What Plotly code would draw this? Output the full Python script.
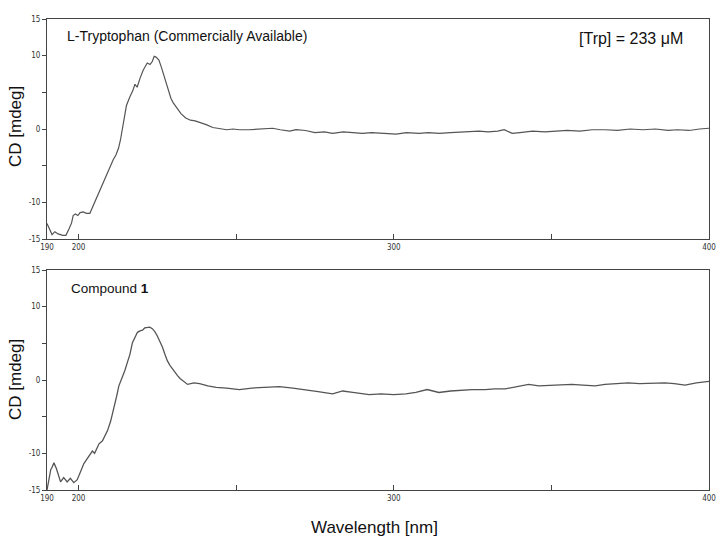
import plotly.graph_objects as go

# ---- data ----
trp_wl = [190, 191, 191.6, 192.5, 193.5, 195, 196, 197, 197.8, 198.3, 199, 199.8, 200.5, 201.5, 202.5,
          203.6, 204.5, 205.7, 206.8, 207.8, 209, 210, 211, 211.9, 212.7, 213.3, 214.2, 215.2, 216.3,
          217.2, 217.9, 218.6, 219.5, 220.5, 221.8, 222.7, 223.4, 224, 224.6, 225.5, 226.3, 227, 227.8,
          228.5, 229.3, 230, 231.2, 232.5, 234, 235.5, 237, 238.5, 240.5, 242.6, 245, 247, 249, 251,
          254, 257, 259, 261.6, 264, 267, 269, 272, 275, 278, 280.6, 284, 287, 290, 293, 296, 300.8,
          304, 308, 311, 314.5, 318, 321, 324, 327, 330, 333, 335, 337.6, 340, 344, 348, 351.4, 355,
          359, 363, 367, 371, 375, 379, 383, 387, 390, 393.7, 397, 400]
trp_cd = [-12.9, -14.0, -14.4, -14.0, -14.3, -14.5, -14.5, -13.6, -12.8, -11.8, -11.6, -11.8, -11.4,
          -11.3, -11.5, -11.5, -10.6, -9.4, -8.3, -7.3, -6.2, -5.2, -4.2, -3.5, -2.6, -1.5, 0.8, 3.2,
          4.4, 5.2, 6.1, 5.7, 6.9, 8.0, 9.0, 8.8, 9.2, 9.9, 9.8, 9.4, 8.4, 7.4, 6.1, 5.1, 4.2, 3.6,
          2.8, 2.1, 1.5, 1.2, 1.1, 0.9, 0.6, 0.2, 0.0, -0.1, 0.0, -0.1, -0.1, 0.0, 0.1, 0.1, -0.1,
          -0.3, -0.1, -0.2, -0.5, -0.4, -0.6, -0.4, -0.5, -0.6, -0.5, -0.6, -0.7, -0.5, -0.6, -0.5,
          -0.6, -0.5, -0.4, -0.4, -0.3, -0.4, -0.3, -0.1, -0.6, -0.5, -0.3, -0.4, -0.3, -0.2, -0.3,
          -0.1, -0.1, -0.2, 0.0, -0.1, 0.0, -0.2, -0.1, -0.2, 0.0, 0.1]

cmp_wl = [190, 190.6, 191.2, 191.5, 192.2, 193, 193.6, 194.3, 195.3, 196.4, 197.4, 198.5, 199.6,
          200.6, 201.7, 202.5, 203.3, 204.4, 205.1, 205.8, 206.5, 207.6, 208.4, 209.2, 210.2, 211.2,
          212.1, 212.8, 213.9, 214.7, 215.5, 216.3, 217.1, 217.9, 218.7, 219.5, 220.3, 221, 221.8,
          222.6, 223.4, 224.2, 225, 225.8, 226.6, 227.4, 228.2, 229, 229.8, 230.6, 231.4, 232.2, 233,
          234.6, 236.6, 238.4, 241, 243.7, 247, 251, 255, 259, 263.7, 268, 272, 276, 280.6, 283.8,
          287, 292.2, 296, 300, 303.8, 307, 310.6, 314.3, 318, 321, 324.8, 329, 332, 335.4, 339,
          342.8, 346, 350, 353, 356.5, 360, 363.9, 367, 371, 374.4, 378, 383, 386, 389, 392.4, 396,
          398, 400]
cmp_cd = [-15.0, -13.5, -12.2, -12.0, -11.3, -12.1, -13.0, -13.9, -13.3, -13.9, -13.4, -14.0, -13.6,
          -12.5, -11.4, -10.9, -10.4, -9.7, -10.0, -9.3, -8.7, -8.3, -7.6, -6.9, -5.6, -4.0, -2.2,
          -0.8, 0.3, 1.3, 2.4, 3.5, 5.1, 5.9, 6.5, 6.7, 6.8, 7.1, 7.2, 7.2, 7.0, 6.6, 6.0, 5.3, 4.5,
          3.5, 2.6, 2.0, 1.5, 1.1, 0.6, 0.2, -0.1, -0.6, -0.4, -0.5, -0.8, -1.0, -1.1, -1.3, -1.1,
          -1.0, -0.9, -1.1, -1.4, -1.6, -1.9, -1.5, -1.7, -2.0, -1.9, -2.0, -1.9, -1.7, -1.3, -1.7,
          -1.5, -1.4, -1.3, -1.3, -1.2, -1.2, -0.9, -0.6, -0.8, -0.7, -0.6, -0.6, -0.7, -0.8, -0.6,
          -0.5, -0.4, -0.5, -0.4, -0.4, -0.5, -0.7, -0.4, -0.3, -0.2]

x_tickvals = [190, 200, 250, 300, 350, 400]
x_ticktext = ["190", "200", "", "300", "", "400"]
y_tickvals = [-15, -10, -5, 0, 5, 10, 15]
y_ticktext = ["-15", "-10", "", "0", "", "10", "15"]

W, H = 717, 539
LINE = "#555555"
FRAME = "#444444"
tickfont = dict(family="Liberation Sans Narrow, DejaVu Sans Condensed, Arial Narrow, sans-serif",
                size=8, color="#333333")

fig = go.Figure()
fig.add_trace(go.Scatter(x=trp_wl, y=trp_cd, mode="lines", line=dict(color=LINE, width=1.2),
                         xaxis="x", yaxis="y", showlegend=False, hoverinfo="skip"))
fig.add_trace(go.Scatter(x=cmp_wl, y=cmp_cd, mode="lines", line=dict(color=LINE, width=1.3),
                         xaxis="x2", yaxis="y2", showlegend=False, hoverinfo="skip"))

xdom = [47 / W, 709 / W]
ydom_top = [1 - 239 / H, 1 - 19 / H]
ydom_bot = [1 - 490 / H, 1 - 270 / H]

def xax(anchor):
    return dict(domain=xdom, range=[190, 400], anchor=anchor, showline=True, mirror=True,
                linecolor=FRAME, linewidth=1, ticks="inside", ticklen=5, tickcolor=FRAME,
                tickvals=x_tickvals, ticktext=x_ticktext, tickfont=tickfont,
                showgrid=False, zeroline=False, automargin=False)

def yax(dom, anchor):
    return dict(domain=dom, range=[-15, 15], anchor=anchor, showline=True, mirror=True,
                linecolor=FRAME, linewidth=1, ticks="outside", ticklen=4, tickcolor=FRAME,
                tickvals=y_tickvals, ticktext=y_ticktext, tickfont=tickfont,
                showgrid=False, zeroline=False, automargin=False)

txt = dict(family="Liberation Sans, Arial, sans-serif", color="#111111")

fig.update_layout(
    width=W, height=H,
    margin=dict(l=0, r=0, t=0, b=0),
    paper_bgcolor="white", plot_bgcolor="white",
    xaxis=xax("y"), yaxis=yax(ydom_top, "x"),
    xaxis2=xax("y2"), yaxis2=yax(ydom_bot, "x2"),
    annotations=[
        dict(text="L-Tryptophan (Commercially Available)", xref="paper", yref="paper",
             x=65 / W, y=1 - 36 / H, xanchor="left", yanchor="middle", showarrow=False,
             font=dict(size=14, **txt)),
        dict(text="[Trp] = 233 μM", xref="paper", yref="paper",
             x=685 / W, y=1 - 38 / H, xanchor="right", yanchor="middle", showarrow=False,
             font=dict(size=16, **txt)),
        dict(text="Compound <b>1</b>", xref="paper", yref="paper",
             x=69 / W, y=1 - 288 / H, xanchor="left", yanchor="middle", showarrow=False,
             font=dict(size=13.5, **txt)),
        dict(text="CD [mdeg]", xref="paper", yref="paper", textangle=-90,
             x=15 / W, y=1 - 127 / H, xanchor="center", yanchor="middle", showarrow=False,
             font=dict(size=17, **txt)),
        dict(text="CD [mdeg]", xref="paper", yref="paper", textangle=-90,
             x=15 / W, y=1 - 380 / H, xanchor="center", yanchor="middle", showarrow=False,
             font=dict(size=17, **txt)),
        dict(text="Wavelength [nm]", xref="paper", yref="paper",
             x=374 / W, y=1 - 527 / H, xanchor="center", yanchor="middle", showarrow=False,
             font=dict(size=17, **txt)),
    ],
)

fig.write_html("out.html", config={"displayModeBar": False},
               post_script="document.body.style.margin='0';document.body.style.overflow='hidden';")
